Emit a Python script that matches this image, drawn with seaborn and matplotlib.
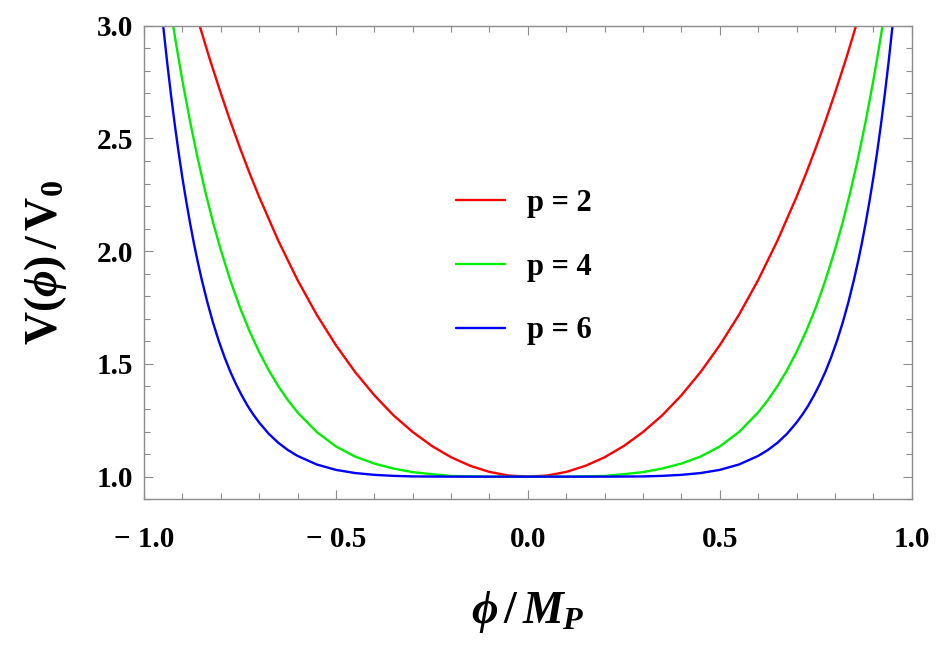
import numpy as np
import pandas as pd
import matplotlib
matplotlib.use('Agg')
import matplotlib.pyplot as plt
import seaborn as sns

# values (curves are symmetric about phi = 0,
# so only the right half is listed and mirrored below)
phi_p2 = [0.0, 0.05, 0.10, 0.15, 0.20, 0.25, 0.30, 0.35, 0.40, 0.45, 0.50, 0.55,
          0.60, 0.65, 0.70, 0.725, 0.75, 0.775, 0.80, 0.83, 0.855]
v_p2 = [1.0, 1.005, 1.021, 1.048, 1.086, 1.136, 1.198, 1.272, 1.361, 1.464, 1.583, 1.718,
        1.872, 2.046, 2.241, 2.346, 2.458, 2.576, 2.701, 2.859, 3.0]

phi_p4 = [0.0, 0.10, 0.20, 0.25, 0.30, 0.35, 0.40, 0.45, 0.50, 0.55, 0.60, 0.625,
          0.65, 0.675, 0.70, 0.725, 0.75, 0.775, 0.80, 0.82, 0.84, 0.86, 0.88, 0.90, 0.915, 0.924]
v_p4 = [1.0, 1.0, 1.003, 1.011, 1.020, 1.036, 1.058, 1.089, 1.134, 1.198, 1.285, 1.339,
        1.401, 1.472, 1.553, 1.645, 1.750, 1.870, 2.006, 2.127, 2.262, 2.411, 2.576, 2.757, 2.906, 3.0]

phi_p6 = [0.0, 0.10, 0.20, 0.30, 0.35, 0.40, 0.45, 0.50, 0.55, 0.60, 0.625, 0.65,
          0.675, 0.70, 0.715, 0.73, 0.745, 0.76, 0.775, 0.79, 0.805, 0.82, 0.835, 0.85,
          0.86, 0.87, 0.88, 0.89, 0.90, 0.91, 0.92, 0.93, 0.94, 0.95]
v_p6 = [1.0, 1.0, 1.0, 1.001, 1.0035, 1.008, 1.016, 1.030, 1.054, 1.092, 1.118, 1.150,
        1.190, 1.240, 1.275, 1.314, 1.359, 1.409, 1.465, 1.529, 1.601, 1.682, 1.774, 1.877,
        1.953, 2.035, 2.125, 2.222, 2.326, 2.440, 2.564, 2.698, 2.843, 3.0]

labels = ['p = 2', 'p = 4', 'p = 6']
colors = ['#ff0000', '#00ee00', '#0000ff']


def mirrored(phi, v, name):
    phi = np.asarray(phi)
    v = np.asarray(v)
    x = np.concatenate([-phi[:0:-1], phi])
    y = np.concatenate([v[:0:-1], v])
    return pd.DataFrame({'phi': x, 'V': y, 'p': name})


df = pd.concat([
    mirrored(phi_p2, v_p2, labels[0]),
    mirrored(phi_p4, v_p4, labels[1]),
    mirrored(phi_p6, v_p6, labels[2]),
], ignore_index=True)

sns.set_style('ticks')
plt.rcParams['font.family'] = ['Liberation Serif', 'DejaVu Serif']
plt.rcParams['font.weight'] = 'bold'
plt.rcParams['text.color'] = 'black'
plt.rcParams['axes.labelcolor'] = 'black'
plt.rcParams['xtick.labelcolor'] = 'black'
plt.rcParams['ytick.labelcolor'] = 'black'
plt.rcParams['mathtext.fontset'] = 'custom'
plt.rcParams['mathtext.rm'] = 'Liberation Serif:bold'
plt.rcParams['mathtext.it'] = 'Liberation Serif:bold:italic'
plt.rcParams['mathtext.bf'] = 'Liberation Serif:bold'

fig = plt.figure(figsize=(9.38, 6.5), dpi=100)
ax = fig.add_axes([0.1535, 0.232, 0.8185, 0.7285])

sns.lineplot(data=df, x='phi', y='V', hue='p', palette=dict(zip(labels, colors)),
             estimator=None, sort=False, linewidth=1.7, ax=ax)

ax.set_xlim(-1.0, 1.0)
ax.set_ylim(0.9, 3.0)

ax.set_xticks([-1.0, -0.5, 0.0, 0.5, 1.0])
ax.set_xticklabels(['\u2212 1.0', '\u2212 0.5', '0.0', '0.5', '1.0'])
ax.set_xticks(np.arange(-1.0, 1.01, 0.1), minor=True)
ax.set_yticks([1.0, 1.5, 2.0, 2.5, 3.0])
ax.set_yticklabels(['1.0', '1.5', '2.0', '2.5', '3.0'])
ax.set_yticks(np.arange(0.9, 3.01, 0.1), minor=True)

frame_col = '#8c8c8c'
for s in ax.spines.values():
    s.set_color(frame_col)
    s.set_linewidth(1.0)
ax.tick_params(which='both', direction='in', top=True, right=True, color=frame_col, width=0.8)
ax.tick_params(which='major', length=6.5, labelsize=21, labelcolor='black')
ax.tick_params(which='minor', length=4)
ax.tick_params(axis='y', which='major', pad=8)
ax.tick_params(axis='x', which='major', pad=19)
for lab in ax.get_xticklabels() + ax.get_yticklabels():
    lab.set_fontweight('bold')

ax.set_xlabel(r'$\phi\,/\,M_P$', fontsize=33, labelpad=26, color='black')
ax.set_ylabel(r'$\mathbf{V(}\phi\mathbf{)\,/\,V_0}$', fontsize=33, labelpad=20, color='black')

leg = ax.legend(loc='center left', bbox_to_anchor=(0.406, 0.49), frameon=False,
                prop={'family': 'Liberation Serif', 'weight': 'bold', 'size': 22},
                handlelength=1.6, handletextpad=0.75, labelspacing=1.13,
                borderpad=0, borderaxespad=0)
for line in leg.get_lines():
    line.set_linewidth(1.7)
for t in leg.get_texts():
    t.set_color('black')

fig.savefig('out.png', dpi=100)
